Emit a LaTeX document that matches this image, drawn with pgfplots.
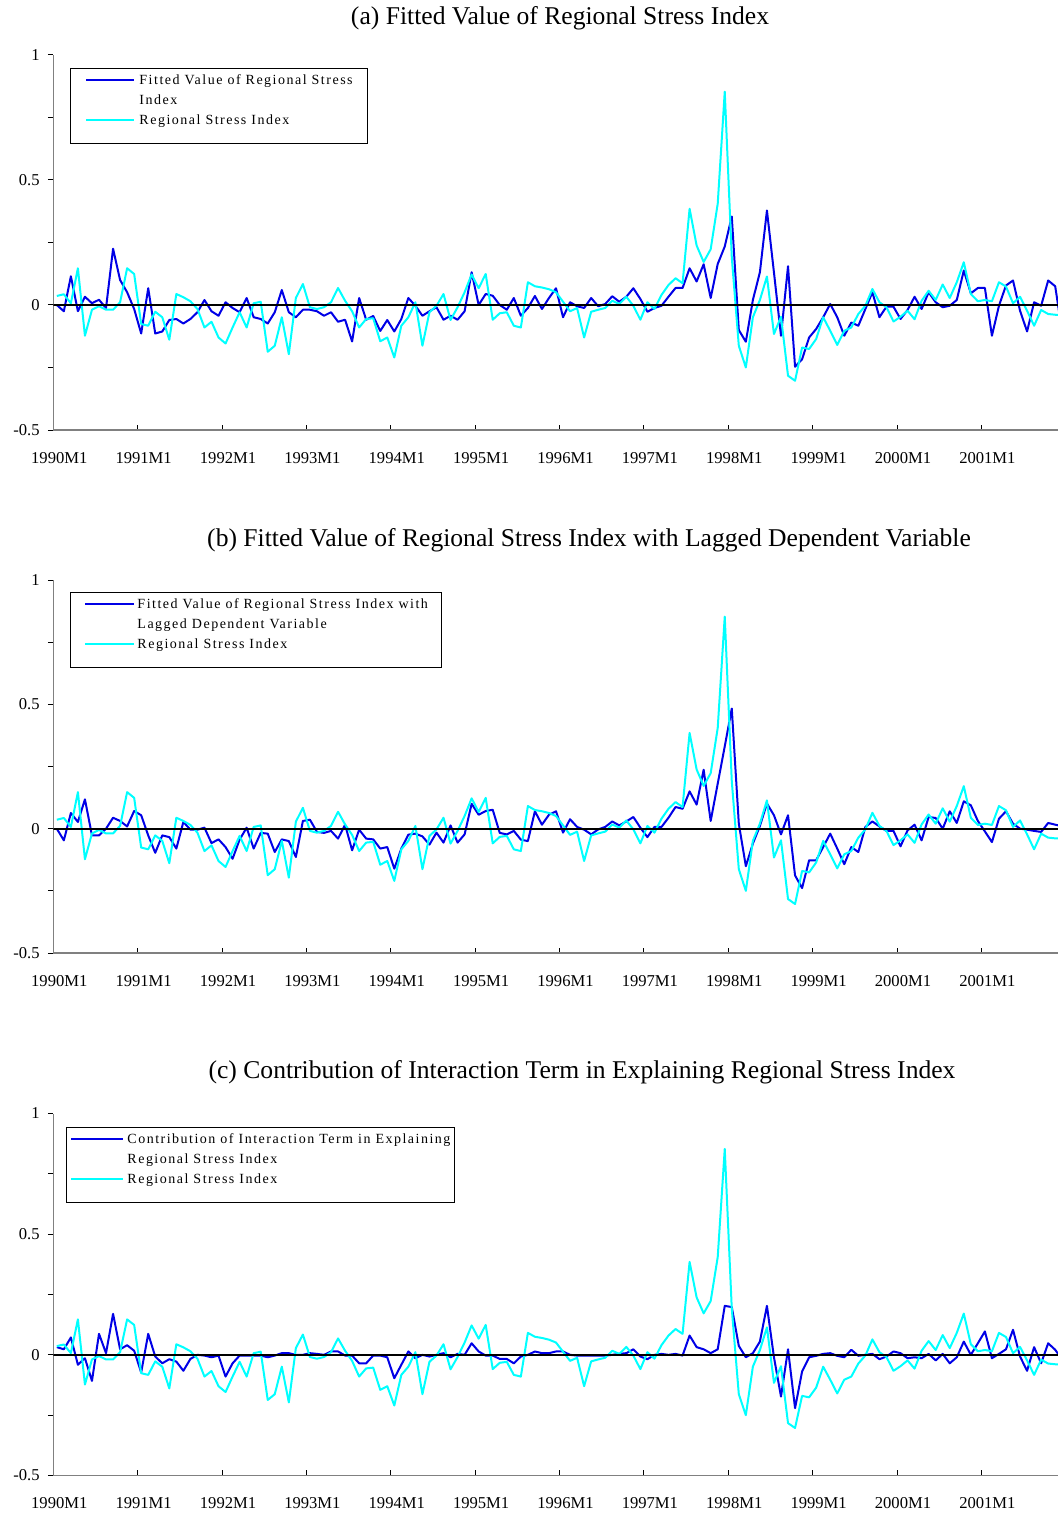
\documentclass[border=0pt]{standalone}
\usepackage{fontspec}
\setmainfont{Liberation Serif}
\newfontfamily\legfont{Liberation Serif}[LetterSpace=10.7]
\usepackage{pgfplots}
\pgfplotsset{compat=1.18}
\usepackage{pgfplotstable}
\definecolor{serblue}{RGB}{0,0,230}
\definecolor{sercyan}{RGB}{0,255,255}

\pgfplotstableread{
i rsi fa fb fc
0 0.036 0 0 0.032
1 0.043 -0.025 -0.047 0.023
2 0.007 0.115 0.063 0.072
3 0.147 -0.025 0.027 -0.041
4 -0.123 0.033 0.118 -0.014
5 -0.019 0.007 -0.027 -0.108
6 -0.005 0.021 -0.027 0.087
7 -0.019 -0.012 0 0.007
8 -0.019 0.225 0.044 0.170
9 0.011 0.100 0.031 0.023
10 0.147 0.051 0.009 0.040
11 0.124 -0.016 0.071 0.017
12 -0.076 -0.114 0.054 -0.073
13 -0.083 0.067 -0.027 0.087
14 -0.027 -0.114 -0.097 -0.007
15 -0.049 -0.106 -0.027 -0.035
16 -0.139 -0.060 -0.034 -0.018
17 0.044 -0.056 -0.080 -0.028
18 0.031 -0.074 0.027 -0.066
19 0.015 -0.056 -0.004 -0.017
20 -0.016 -0.029 -0.004 0
21 -0.090 0.020 0.004 -0.003
22 -0.067 -0.025 -0.058 -0.010
23 -0.130 -0.043 -0.043 -0.003
24 -0.154 0.011 -0.074 -0.090
25 -0.090 -0.012 -0.121 -0.035
26 -0.029 -0.029 -0.044 -0.003
27 -0.090 0.028 0.004 -0.003
28 0.007 -0.049 -0.080 -0.003
29 0.013 -0.056 -0.017 -0.003
30 -0.187 -0.074 -0.020 -0.010
31 -0.163 -0.029 -0.094 -0.003
32 -0.049 0.060 -0.043 0.007
33 -0.197 -0.029 -0.050 0.007
34 0.028 -0.049 -0.114 0
35 0.084 -0.019 0.031 0
36 -0.009 -0.019 0.036 0.007
37 -0.016 -0.025 -0.013 0.004
38 -0.009 -0.043 -0.017 0
39 0.011 -0.029 -0.009 0.014
40 0.068 -0.067 -0.040 0.014
41 0.017 -0.059 0.016 -0.003
42 -0.025 -0.146 -0.087 -0.003
43 -0.090 0.028 -0.004 -0.035
44 -0.056 -0.059 -0.040 -0.035
45 -0.053 -0.044 -0.043 -0.003
46 -0.145 -0.104 -0.080 -0.003
47 -0.130 -0.060 -0.074 -0.010
48 -0.210 -0.106 -0.161 -0.097
49 -0.083 -0.056 -0.080 -0.041
50 -0.049 0.028 -0.024 0.014
51 0.011 -0.003 -0.020 -0.014
52 -0.163 -0.043 -0.031 0
53 -0.029 -0.025 -0.064 -0.007
54 -0.003 -0.009 -0.016 0
55 0.044 -0.059 -0.056 0.007
56 -0.060 -0.043 0.013 -0.010
57 -0.009 -0.059 -0.056 0.004
58 0.051 -0.025 -0.023 0
59 0.122 0.131 0.100 0.048
60 0.067 0 0.056 0.014
61 0.124 0.044 0.071 -0.003
62 -0.059 0.037 0.076 -0.003
63 -0.033 0 -0.017 -0.017
64 -0.029 -0.019 -0.023 -0.017
65 -0.083 0.028 -0.009 -0.035
66 -0.090 -0.043 -0.044 -0.007
67 0.091 -0.012 -0.050 0
68 0.075 0.036 0.070 0.014
69 0.070 -0.016 0.016 0.007
70 0.063 0.028 0.056 0.007
71 0.051 0.067 0.070 0.014
72 0.013 -0.049 -0.016 0.014
73 -0.025 0.011 0.038 0
74 -0.012 -0.005 0.007 -0.003
75 -0.130 -0.012 -0.004 -0.003
76 -0.027 0.028 -0.023 -0.003
77 -0.019 -0.005 -0.003 -0.003
78 -0.012 0.004 0.007 -0.003
79 0.017 0.035 0.029 0
80 0.004 0.013 0.013 0.004
81 0.033 0.033 0.029 0.007
82 -0.003 0.067 0.047 0.023
83 -0.059 0.024 0.004 -0.007
84 0.011 -0.027 -0.034 -0.018
85 -0.016 -0.012 0.007 0
86 0.040 -0.003 0.007 0.004
87 0.080 0.033 0.044 0
88 0.107 0.068 0.087 0.004
89 0.087 0.068 0.080 -0.003
90 0.385 0.147 0.150 0.080
91 0.238 0.094 0.097 0.032
92 0.172 0.163 0.237 0.023
93 0.223 0.028 0.031 0.007
94 0.405 0.164 0.181 0.023
95 0.853 0.234 0.331 0.203
96 0.191 0.354 0.483 0.198
97 -0.163 -0.100 0.020 0.037
98 -0.250 -0.147 -0.151 -0.010
99 -0.049 0.020 -0.060 0.007
100 0.020 0.131 0.011 0.055
101 0.114 0.378 0.101 0.203
102 -0.116 0.130 0.054 -0.010
103 -0.047 -0.123 -0.023 -0.173
104 -0.283 0.155 0.054 0.023
105 -0.303 -0.247 -0.188 -0.221
106 -0.170 -0.217 -0.239 -0.069
107 -0.176 -0.130 -0.127 -0.010
108 -0.136 -0.096 -0.127 -0.004
109 -0.049 -0.049 -0.074 0.004
110 -0.103 0.004 -0.020 0.007
111 -0.160 -0.049 -0.080 -0.004
112 -0.103 -0.123 -0.143 -0.010
113 -0.090 -0.070 -0.074 0.021
114 -0.036 -0.083 -0.094 -0.004
115 -0.003 -0.016 0.007 0
116 0.064 0.051 0.029 0.004
117 0.011 -0.049 0.009 -0.018
118 -0.009 -0.007 -0.009 -0.007
119 -0.066 -0.007 -0.009 0.014
120 -0.047 -0.056 -0.071 0.007
121 -0.023 -0.020 -0.007 -0.014
122 -0.057 0.033 0.016 -0.010
123 0.017 -0.016 -0.047 -0.014
124 0.057 0.051 0.047 0.004
125 0.020 0.011 0.043 -0.023
126 0.082 -0.009 0 0.004
127 0.028 -0.003 0.070 -0.035
128 0.091 0.020 0.023 -0.010
129 0.171 0.138 0.110 0.055
130 0.044 0.047 0.094 0
131 0.015 0.068 0.031 0.048
132 0.020 0.068 -0.011 0.097
133 0.015 -0.123 -0.054 -0.014
134 0.091 -0.003 0.040 0.004
135 0.074 0.078 0.070 0.023
136 0.007 0.098 0.020 0.104
137 0.033 -0.023 0 -0.007
138 -0.023 -0.106 -0.004 -0.066
139 -0.083 0.011 -0.009 0.032
140 -0.020 -0.003 -0.013 -0.035
141 -0.036 0.098 0.023 0.048
142 -0.039 0.075 0.016 0.021
143 -0.040 -0.110 0.010 -0.020
}\data

\pgfplotsset{
  panel/.style={
    scale only axis, width=502.35pt,
    xmin=-0.5, xmax=142.4, ymin=-0.5, ymax=1,
    axis lines=left,
    axis line style={-, draw=gray, line width=0.7pt},
    tick align=inside, major tick length=2.7pt,
    tick style={black, line width=0.5pt},
    ytick style={xshift=-2.7pt},
    xtick={-0.5,11.5,23.5,35.5,47.5,59.5,71.5,83.5,95.5,107.5,119.5,131.5},
    xticklabels={1990M1,1991M1,1992M1,1993M1,1994M1,1995M1,1996M1,1997M1,1998M1,1999M1,2000M1,2001M1},
    ytick={-0.5,-0.25,0,0.25,0.5,0.75,1},
    yticklabels={-0.5,,0,,0.5,,1},
    tick label style={font=\fontsize{8.3}{10}\selectfont},
    xticklabel style={anchor=north, inner sep=0pt, yshift=-11pt, xshift=3pt},
    yticklabel style={anchor=east, inner sep=0pt, xshift=-6.6pt},
    legend cell align=left,
    legend style={draw=black, line width=0.5pt,
      font=\legfont\fontsize{7}{8}\selectfont,
      inner ysep=0.75pt, row sep=0pt,
      nodes={inner sep=0pt, text height=7pt, text depth=3pt}},
  },
  ser/.style={line width=1pt, line join=round, mark=none},
}

\begin{document}
\begin{tikzpicture}
\useasboundingbox (0,0) rectangle (529pt,-756.5pt);

\node[font=\fontsize{12.8}{15}\selectfont, inner sep=0pt] at (280pt,-9pt) {(a) Fitted Value of Regional Stress Index};
\node[font=\fontsize{12.8}{15}\selectfont, inner sep=0pt] at (294.5pt,-270pt) {(b) Fitted Value of Regional Stress Index with Lagged Dependent Variable};
\node[font=\fontsize{12.8}{15}\selectfont, inner sep=0pt] at (291pt,-536pt) {(c) Contribution of Interaction Term in Explaining Regional Stress Index};

% Panel (a)
\begin{axis}[panel, at={(26.65pt,-215pt)}, anchor=south west, height=187.5pt,
  legend style={at={(0.0166,0.9653)}, anchor=north west, inner xsep=7.5pt, column sep=2pt},
  legend image code/.code={\draw[#1] (0pt,0pt) -- (24pt,0pt);}]
\addplot[ser, serblue] table[x=i, y=fa] {\data};
\addlegendentry{Fitted Value of Regional Stress}
\addlegendimage{empty legend}
\addlegendentry{Index}
\addplot[ser, sercyan] table[x=i, y=rsi] {\data};
\addlegendentry{Regional Stress Index}
\addlegendimage{empty legend}
\addlegendentry[text height=0pt, text depth=6pt]{}
\addplot[black, line width=1pt, forget plot] coordinates {(-0.5,0) (143,0)};
\end{axis}

% Panel (b)
\begin{axis}[panel, at={(26.65pt,-476.5pt)}, anchor=south west, height=186.5pt,
  legend style={at={(0.0166,0.9678)}, anchor=north west, inner xsep=7pt, column sep=1pt},
  legend image code/.code={\draw[#1] (0pt,0pt) -- (24.5pt,0pt);}]
\addplot[ser, serblue] table[x=i, y=fb] {\data};
\addlegendentry{Fitted Value of Regional Stress Index with}
\addlegendimage{empty legend}
\addlegendentry{Lagged Dependent Variable}
\addplot[ser, sercyan] table[x=i, y=rsi] {\data};
\addlegendentry{Regional Stress Index}
\addlegendimage{empty legend}
\addlegendentry[text height=0pt, text depth=6pt]{}
\addplot[black, line width=1pt, forget plot] coordinates {(-0.5,0) (143,0)};
\end{axis}

% Panel (c)
\begin{axis}[panel, at={(26.65pt,-737.75pt)}, anchor=south west, height=181pt,
  legend style={at={(0.0126,0.9627)}, anchor=north west, inner xsep=2pt, column sep=1.5pt},
  legend image code/.code={\draw[#1] (0pt,0pt) -- (26pt,0pt);}]
\addplot[ser, serblue] table[x=i, y=fc] {\data};
\addlegendentry{Contribution of Interaction Term in Explaining}
\addlegendimage{empty legend}
\addlegendentry{Regional Stress Index}
\addplot[ser, sercyan] table[x=i, y=rsi] {\data};
\addlegendentry{Regional Stress Index}
\addlegendimage{empty legend}
\addlegendentry[text height=0pt, text depth=6pt]{}
\addplot[black, line width=1pt, forget plot] coordinates {(-0.5,0) (143,0)};
\end{axis}
\end{tikzpicture}
\end{document}
